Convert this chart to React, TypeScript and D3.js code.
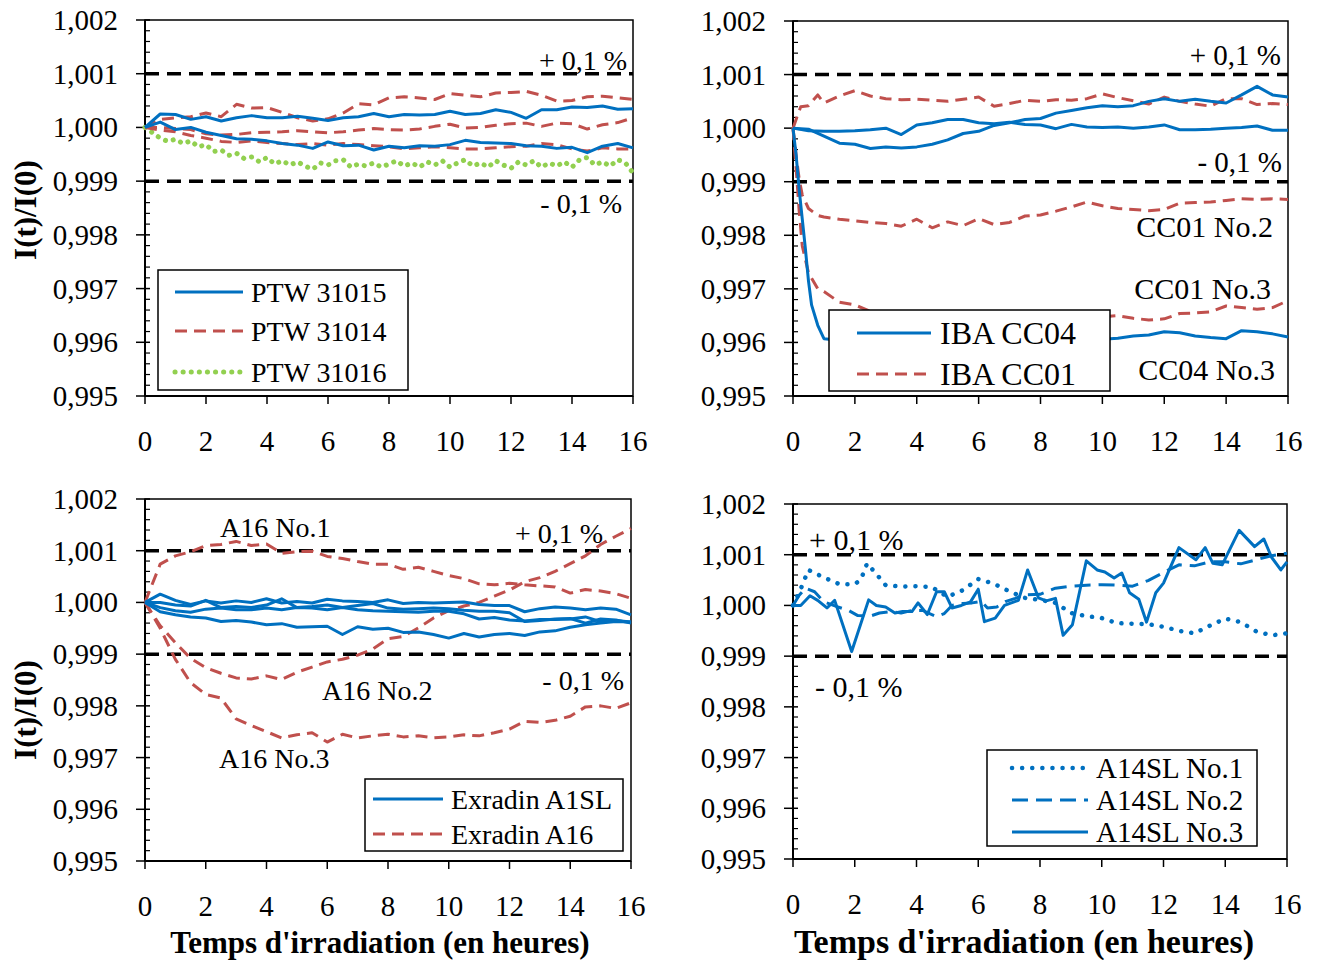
import React from "react";
import * as d3 from "d3";

// ---------- shared axes data ----------
const yTickValues = [0.995, 0.996, 0.997, 0.998, 0.999, 1.0, 1.001, 1.002];
const xTickValues = [0, 2, 4, 6, 8, 10, 12, 14, 16];
const refLevels = [1.001, 0.999];

// ---------- time arrays (hours) ----------
const hoursHalf = [0, 0.5, 1, 1.5, 2, 2.5, 3, 3.5, 4, 4.5, 5, 5.5, 6, 6.5, 7, 7.5, 8, 8.5, 9, 9.5, 10, 10.5, 11, 11.5, 12, 12.5, 13, 13.5, 14, 14.5, 15, 15.5, 16];
const hoursQuarter = [0, 0.25, 0.5, 0.75, 1, 1.25, 1.5, 1.75, 2, 2.25, 2.5, 2.75, 3, 3.25, 3.5, 3.75, 4, 4.25, 4.5, 4.75, 5, 5.25, 5.5, 5.75, 6, 6.25, 6.5, 6.75, 7, 7.25, 7.5, 7.75, 8, 8.25, 8.5, 8.75, 9, 9.25, 9.5, 9.75, 10, 10.25, 10.5, 10.75, 11, 11.25, 11.5, 11.75, 12, 12.25, 12.5, 12.75, 13, 13.25, 13.5, 13.75, 14, 14.25, 14.5, 14.75, 15, 15.25, 15.5, 15.75, 16];

// ---------- Panel 1 : PTW ----------
const ptw31015a = [1.00000, 1.00025, 1.00024, 1.00015, 1.00020, 1.00012, 1.00018, 1.00022, 1.00018, 1.00018, 1.00021, 1.00017, 1.00013, 1.00018, 1.00020, 1.00026, 1.00020, 1.00024, 1.00023, 1.00024, 1.00030, 1.00024, 1.00026, 1.00033, 1.00028, 1.00017, 1.00033, 1.00033, 1.00038, 1.00037, 1.00040, 1.00034, 1.00035];
const ptw31015b = [1.00000, 1.00010, 0.99996, 1.00000, 0.99991, 0.99985, 0.99979, 0.99978, 0.99975, 0.99970, 0.99967, 0.99961, 0.99973, 0.99966, 0.99967, 0.99958, 0.99965, 0.99962, 0.99966, 0.99965, 0.99968, 0.99976, 0.99972, 0.99971, 0.99970, 0.99966, 0.99965, 0.99961, 0.99963, 0.99953, 0.99965, 0.99970, 0.99962];
const ptw31014a = [1.00000, 1.00015, 1.00018, 1.00020, 1.00027, 1.00020, 1.00043, 1.00036, 1.00037, 1.00028, 1.00018, 1.00012, 1.00016, 1.00027, 1.00044, 1.00042, 1.00055, 1.00057, 1.00055, 1.00052, 1.00063, 1.00060, 1.00057, 1.00064, 1.00065, 1.00067, 1.00060, 1.00049, 1.00050, 1.00057, 1.00058, 1.00055, 1.00052];
const ptw31014b = [1.00000, 1.00000, 0.99998, 0.99996, 0.99988, 0.99986, 0.99987, 0.99990, 0.99991, 0.99992, 0.99994, 0.99992, 0.99990, 0.99992, 0.99995, 0.99998, 0.99996, 0.99995, 0.99997, 1.00002, 1.00006, 0.99999, 1.00000, 1.00004, 1.00007, 1.00008, 1.00002, 1.00008, 1.00007, 0.99997, 1.00005, 1.00009, 1.00018];
const ptw31014c = [1.00000, 0.99995, 0.99992, 0.99985, 0.99980, 0.99974, 0.99972, 0.99975, 0.99972, 0.99970, 0.99968, 0.99970, 0.99967, 0.99970, 0.99968, 0.99966, 0.99964, 0.99960, 0.99962, 0.99964, 0.99962, 0.99960, 0.99960, 0.99962, 0.99964, 0.99965, 0.99970, 0.99968, 0.99960, 0.99956, 0.99962, 0.99960, 0.99960];
const ptw31016 = [
  1.00000, 0.99990, 0.99980, 0.99974,
  0.99978, 0.99970, 0.99975, 0.99964,
  0.99968, 0.99955, 0.99958, 0.99948,
  0.99952, 0.99942, 0.99945, 0.99936,
  0.99944, 0.99932, 0.99938, 0.99930,
  0.99936, 0.99928, 0.99922, 0.99934,
  0.99930, 0.99938, 0.99940, 0.99926,
  0.99932, 0.99928, 0.99934, 0.99926,
  0.99932, 0.99938, 0.99928, 0.99934,
  0.99926, 0.99936, 0.99930, 0.99938,
  0.99926, 0.99934, 0.99940, 0.99928,
  0.99934, 0.99926, 0.99938, 0.99930,
  0.99924, 0.99936, 0.99930, 0.99938,
  0.99926, 0.99934, 0.99928, 0.99936,
  0.99926, 0.99940, 0.99944, 0.99930,
  0.99936, 0.99928, 0.99940, 0.99934,
  0.99915];

// ---------- Panel 2 : IBA ----------
const hoursCC04fast = [0, 0.1, 0.2, 0.3, 0.4, 0.5, 0.6, 0.8, 1, 1.5, 2, 2.5, 3, 3.5, 4, 4.5, 5, 5.5, 6, 6.5, 7, 7.5, 8, 8.5, 9, 9.5, 10, 10.5, 11, 11.5, 12, 12.5, 13, 13.5, 14, 14.5, 15, 15.5, 16];
const hoursCC01a = [0, 0.25, 0.5, 0.8, 1, 1.5, 2, 2.5, 3, 3.5, 4, 4.5, 5, 5.5, 6, 6.5, 7, 7.5, 8, 8.5, 9, 9.5, 10, 10.5, 11, 11.5, 12, 12.5, 13, 13.5, 14, 14.5, 15, 15.5, 16];
const hoursCC01fast = [0, 0.1, 0.2, 0.3, 0.5, 0.8, 1, 1.5, 2, 2.5, 3, 3.5, 4, 4.5, 5, 5.5, 6, 6.5, 7, 7.5, 8, 8.5, 9, 9.5, 10, 10.5, 11, 11.5, 12, 12.5, 13, 13.5, 14, 14.5, 15, 15.5, 16];
const ibaCC04a = [1.00000, 0.99998, 0.99985, 0.99972, 0.99970, 0.99962, 0.99965, 0.99963, 0.99965, 0.99970, 0.99978, 0.99990, 0.99994, 1.00005, 1.00010, 1.00016, 1.00018, 1.00028, 1.00033, 1.00038, 1.00042, 1.00040, 1.00042, 1.00050, 1.00055, 1.00050, 1.00054, 1.00050, 1.00047, 1.00062, 1.00078, 1.00062, 1.00058];
const ibaCC04b = [1.00000, 0.99995, 0.99994, 0.99994, 0.99995, 0.99997, 1.00000, 0.99988, 1.00006, 1.00010, 1.00016, 1.00016, 1.00010, 1.00008, 1.00011, 1.00007, 1.00006, 0.99999, 1.00007, 1.00002, 1.00001, 1.00002, 1.00000, 1.00002, 1.00006, 0.99997, 0.99997, 0.99998, 1.00000, 1.00001, 1.00004, 0.99996, 0.99996];
const ibaCC04no3 = [1.00000, 0.99950, 0.99885, 0.99830, 0.99775, 0.99715, 0.99670, 0.99632, 0.99607, 0.99604, 0.99605, 0.99604, 0.99606, 0.99605, 0.99607, 0.99605, 0.99606, 0.99608, 0.99606, 0.99607, 0.99609, 0.99607, 0.99608, 0.99606, 0.99608, 0.99607, 0.99606, 0.99608, 0.99612, 0.99614, 0.99620, 0.99618, 0.99612, 0.99609, 0.99607, 0.99622, 0.99620, 0.99616, 0.99610];
const ibaCC01a = [1.00000, 1.00040, 1.00042, 1.00062, 1.00047, 1.00060, 1.00070, 1.00060, 1.00055, 1.00053, 1.00054, 1.00052, 1.00050, 1.00054, 1.00058, 1.00041, 1.00046, 1.00052, 1.00050, 1.00053, 1.00052, 1.00055, 1.00064, 1.00057, 1.00051, 1.00045, 1.00058, 1.00050, 1.00045, 1.00041, 1.00055, 1.00055, 1.00044, 1.00046, 1.00044];
const ibaCC01no2 = [1.00000, 0.99950, 0.99905, 0.99875, 0.99850, 0.99837, 0.99834, 0.99830, 0.99827, 0.99824, 0.99822, 0.99817, 0.99830, 0.99814, 0.99825, 0.99818, 0.99831, 0.99820, 0.99824, 0.99836, 0.99838, 0.99845, 0.99853, 0.99862, 0.99855, 0.99850, 0.99848, 0.99846, 0.99848, 0.99860, 0.99861, 0.99862, 0.99865, 0.99868, 0.99867, 0.99868, 0.99867];
const ibaCC01no3 = [1.00000, 0.99925, 0.99845, 0.99780, 0.99730, 0.99700, 0.99695, 0.99675, 0.99670, 0.99658, 0.99655, 0.99652, 0.99650, 0.99650, 0.99648, 0.99650, 0.99647, 0.99649, 0.99648, 0.99650, 0.99647, 0.99649, 0.99648, 0.99650, 0.99648, 0.99650, 0.99645, 0.99642, 0.99644, 0.99654, 0.99655, 0.99657, 0.99668, 0.99665, 0.99662, 0.99665, 0.99678];

// ---------- Panel 3 : Exradin ----------
const a16no1 = [1.00000, 1.00074, 1.00090, 1.00098, 1.00110, 1.00112, 1.00118, 1.00110, 1.00113, 1.00095, 1.00098, 1.00099, 1.00089, 1.00085, 1.00079, 1.00074, 1.00074, 1.00064, 1.00068, 1.00060, 1.00052, 1.00046, 1.00036, 1.00034, 1.00037, 1.00034, 1.00032, 1.00030, 1.00018, 1.00025, 1.00022, 1.00017, 1.00008];
const a16no2 = [1.00000, 0.99955, 0.99922, 0.99892, 0.99874, 0.99863, 0.99854, 0.99852, 0.99858, 0.99851, 0.99865, 0.99875, 0.99885, 0.99890, 0.99898, 0.99910, 0.99930, 0.99934, 0.99951, 0.99970, 0.99984, 0.99993, 1.00000, 1.00012, 1.00024, 1.00040, 1.00048, 1.00060, 1.00075, 1.00090, 1.00112, 1.00128, 1.00143];
const a16no3 = [1.00000, 0.99950, 0.99890, 0.99845, 0.99822, 0.99815, 0.99775, 0.99762, 0.99750, 0.99738, 0.99744, 0.99748, 0.99730, 0.99745, 0.99738, 0.99742, 0.99745, 0.99740, 0.99742, 0.99738, 0.99740, 0.99744, 0.99742, 0.99748, 0.99755, 0.99770, 0.99768, 0.99772, 0.99780, 0.99798, 0.99800, 0.99795, 0.99806];
const a1slA = [1.00000, 1.00016, 1.00004, 0.99996, 1.00003, 0.99999, 1.00003, 1.00000, 1.00007, 0.99999, 1.00002, 0.99999, 1.00006, 1.00003, 1.00002, 1.00000, 1.00005, 0.99998, 1.00000, 0.99999, 1.00000, 1.00001, 0.99996, 0.99994, 0.99994, 0.99982, 0.99988, 0.99991, 0.99989, 0.99986, 0.99989, 0.99987, 0.99976];
const a1slB = [1.00000, 1.00000, 0.99995, 0.99993, 1.00004, 0.99990, 0.99992, 0.99990, 0.99995, 1.00007, 0.99990, 0.99992, 0.99995, 0.99990, 0.99994, 0.99998, 0.99989, 0.99987, 0.99988, 0.99989, 0.99988, 0.99985, 0.99983, 0.99983, 0.99980, 0.99963, 0.99965, 0.99968, 0.99969, 0.99960, 0.99968, 0.99966, 0.99960];
const a1slC = [1.00000, 0.99990, 0.99984, 0.99981, 0.99987, 0.99989, 0.99986, 0.99986, 0.99989, 0.99986, 0.99990, 0.99989, 0.99986, 0.99990, 0.99986, 0.99984, 0.99983, 0.99982, 0.99981, 0.99983, 0.99983, 0.99978, 0.99968, 0.99971, 0.99966, 0.99964, 0.99967, 0.99967, 0.99968, 0.99972, 0.99963, 0.99965, 0.99962];
const a1slD = [1.00000, 0.99982, 0.99976, 0.99972, 0.99970, 0.99963, 0.99965, 0.99962, 0.99957, 0.99959, 0.99952, 0.99953, 0.99954, 0.99938, 0.99953, 0.99948, 0.99950, 0.99942, 0.99943, 0.99938, 0.99931, 0.99940, 0.99933, 0.99938, 0.99940, 0.99936, 0.99943, 0.99945, 0.99952, 0.99957, 0.99960, 0.99963, 0.99962];

// ---------- Panel 4 : A14SL ----------
const hoursA14no1 = [0, 0.2, 0.5, 1, 1.5, 2, 2.2, 2.4, 2.7, 3, 3.5, 4, 4.5, 5, 5.5, 6, 6.5, 7, 7.5, 8, 8.5, 9, 9.5, 10, 10.5, 11, 11.5, 12, 12.5, 13, 13.5, 14, 14.5, 15, 15.5, 16];
const a14no1 = [1.00000, 1.00025, 1.00070, 1.00055, 1.00042, 1.00042, 1.00051, 1.00083, 1.00062, 1.00040, 1.00037, 1.00038, 1.00036, 1.00017, 1.00030, 1.00052, 1.00043, 1.00028, 1.00015, 1.00011, 1.00005, 0.99985, 0.99979, 0.99975, 0.99965, 0.99964, 0.99963, 0.99958, 0.99950, 0.99945, 0.99960, 0.99974, 0.99967, 0.99949, 0.99941, 0.99945];
const hoursA14no2 = [0, 0.2, 0.4, 0.7, 1, 1.4, 1.8, 2.1, 2.5, 2.8, 3.2, 3.5, 3.85, 4.2, 4.65, 4.9, 5.15, 5.5, 5.8, 6.1, 6.3, 6.6, 6.9, 7.2, 7.5, 8, 8.5, 9, 9.5, 10, 10.5, 11, 11.5, 12, 12.5, 13, 13.5, 14, 14.5, 15, 15.5, 16];
const a14no2 = [1.00000, 1.00020, 1.00034, 1.00027, 1.00007, 0.99998, 0.99990, 0.99980, 0.99979, 0.99985, 0.99988, 0.99985, 0.99990, 0.99990, 0.99978, 0.99984, 1.00000, 1.00004, 1.00005, 1.00008, 0.99995, 0.99997, 1.00008, 1.00014, 1.00021, 1.00022, 1.00034, 1.00038, 1.00040, 1.00041, 1.00040, 1.00038, 1.00049, 1.00065, 1.00080, 1.00078, 1.00086, 1.00086, 1.00082, 1.00090, 1.00098, 1.00103];
const hoursA14no3 = [0, 0.25, 0.55, 0.8, 1.1, 1.35, 1.9, 2.45, 2.7, 3, 3.3, 3.55, 3.85, 4.05, 4.35, 4.65, 4.9, 5.15, 5.45, 5.75, 6, 6.2, 6.55, 6.85, 7.3, 7.6, 7.95, 8.2, 8.5, 8.75, 9.05, 9.5, 9.85, 10.1, 10.4, 10.65, 10.9, 11.2, 11.45, 11.75, 12, 12.5, 13.05, 13.35, 13.6, 13.9, 14.45, 14.95, 15.25, 15.5, 15.8, 16];
const a14no3 = [1.00000, 1.00000, 1.00019, 1.00010, 0.99995, 1.00010, 0.99909, 1.00011, 1.00000, 0.99997, 0.99985, 0.99988, 0.99988, 1.00005, 0.99982, 1.00027, 1.00027, 0.99995, 1.00000, 1.00007, 1.00032, 0.99968, 0.99975, 1.00000, 1.00010, 1.00070, 1.00015, 1.00009, 1.00014, 0.99941, 0.99962, 1.00088, 1.00070, 1.00066, 1.00054, 1.00064, 1.00025, 1.00012, 0.99967, 1.00025, 1.00044, 1.00114, 1.00090, 1.00114, 1.00083, 1.00080, 1.00148, 1.00116, 1.00131, 1.00095, 1.00070, 1.00086];

// ---------- styles ----------
const FONT = "'Liberation Serif','Times New Roman',Times,serif";
const BLUE = "#0070C0";
const RED = "#C0504D";
const GREEN = "#92D050";

type StyleKey = "blueSolid" | "redDash" | "greenDot" | "blueDot" | "blueDash";
const STYLES: Record<StyleKey, any> = {
  blueSolid: { stroke: BLUE, strokeWidth: 3 },
  redDash: { stroke: RED, strokeWidth: 3, strokeDasharray: "12 7" },
  greenDot: { stroke: GREEN, strokeWidth: 5, strokeDasharray: "0.1 8", strokeLinecap: "round" },
  blueDot: { stroke: BLUE, strokeWidth: 4.5, strokeDasharray: "0.1 10", strokeLinecap: "round" },
  blueDash: { stroke: BLUE, strokeWidth: 3, strokeDasharray: "16 8" },
};

type Series = { t: number[]; v: number[]; style: StyleKey };
type Note = { text: string; x: number; y: number; anchor?: string; size: number };
type LegendCfg = { x: number; y: number; w: number; h: number; rows: number[]; lineX: [number, number]; textX: number; size: number; items: { label: string; style: StyleKey }[] };

type PanelCfg = {
  left: number; right: number; top: number; bottom: number;
  series: Series[];
  legend: LegendCfg;
  notes: Note[];
  yTitle?: { x: number; y: number };
  xTitle?: { x: number; y: number; size: number };
};

const fmt = (v: number) => d3.format(".3f")(v).replace(".", ",");

function Panel({ cfg }: { cfg: PanelCfg }) {
  const x = d3.scaleLinear().domain([0, 16]).range([cfg.left, cfg.right]);
  const y = d3.scaleLinear().domain([0.995, 1.002]).range([cfg.bottom, cfg.top]);
  const line = d3.line<[number, number]>().x((d) => x(d[0])).y((d) => y(d[1]));
  const minor = d3.range(0, 36).filter((i) => i % 5 !== 0).map((i) => 0.995 + i * 0.0002);
  const lg = cfg.legend;
  return (
    <g>
      {/* frame */}
      <rect x={cfg.left} y={cfg.top} width={cfg.right - cfg.left} height={cfg.bottom - cfg.top} fill="none" stroke="#000" strokeWidth={1.5} />
      <line x1={cfg.left} x2={cfg.left} y1={cfg.top} y2={cfg.bottom} stroke="#000" strokeWidth={2} />
      <line x1={cfg.left} x2={cfg.right} y1={cfg.bottom} y2={cfg.bottom} stroke="#000" strokeWidth={2} />
      {/* y ticks */}
      {yTickValues.map((v) => (
        <g key={"yt" + v}>
          <line x1={cfg.left - 9} x2={cfg.left + 5} y1={y(v)} y2={y(v)} stroke="#000" strokeWidth={1.5} />
          <text x={cfg.left - 27} y={y(v) + 10} textAnchor="end" fontFamily={FONT} fontSize={29} fill="#000">{fmt(v)}</text>
        </g>
      ))}
      {minor.map((v, i) => (
        <line key={"ym" + i} x1={cfg.left} x2={cfg.left + 5} y1={y(v)} y2={y(v)} stroke="#000" strokeWidth={1.2} />
      ))}
      {/* x ticks */}
      {xTickValues.map((t) => (
        <g key={"xt" + t}>
          <line x1={x(t)} x2={x(t)} y1={cfg.bottom} y2={cfg.bottom + 8} stroke="#000" strokeWidth={1.5} />
          <text x={x(t)} y={cfg.bottom + 55} textAnchor="middle" fontFamily={FONT} fontSize={29} fill="#000">{t}</text>
        </g>
      ))}
      {/* reference lines */}
      {refLevels.map((v) => (
        <line key={"ref" + v} x1={cfg.left} x2={cfg.right} y1={y(v)} y2={y(v)} stroke="#000" strokeWidth={3.5} strokeDasharray="14 8" />
      ))}
      {/* data */}
      {cfg.series.map((s, i) => (
        <path key={"s" + i} d={line(s.t.map((t, j) => [t, s.v[j]] as [number, number])) || ""} fill="none" strokeLinejoin="round" {...STYLES[s.style]} />
      ))}
      {/* legend */}
      <rect x={lg.x} y={lg.y} width={lg.w} height={lg.h} fill="#fff" stroke="#000" strokeWidth={1.5} />
      {lg.items.map((it, i) => (
        <g key={"lg" + i}>
          <line x1={lg.lineX[0]} x2={lg.lineX[1]} y1={lg.rows[i]} y2={lg.rows[i]} {...STYLES[it.style]} />
          <text x={lg.textX} y={lg.rows[i] + lg.size * 0.34} fontFamily={FONT} fontSize={lg.size} fill="#000">{it.label}</text>
        </g>
      ))}
      {/* notes */}
      {cfg.notes.map((n, i) => (
        <text key={"n" + i} x={n.x} y={n.y} textAnchor={n.anchor || "start"} fontFamily={FONT} fontSize={n.size} fill="#000" style={{ whiteSpace: "pre" }}>{n.text}</text>
      ))}
      {cfg.yTitle && (
        <text transform={`translate(${cfg.yTitle.x},${cfg.yTitle.y}) rotate(-90)`} textAnchor="middle" fontFamily={FONT} fontWeight="bold" fontSize={31} fill="#000">I(t)/I(0)</text>
      )}
      {cfg.xTitle && (
        <text x={cfg.xTitle.x} y={cfg.xTitle.y} textAnchor="middle" fontFamily={FONT} fontWeight="bold" fontSize={cfg.xTitle.size} fill="#000">Temps d'irradiation (en heures)</text>
      )}
    </g>
  );
}

const panels: PanelCfg[] = [
  {
    left: 145, right: 633, top: 20, bottom: 396,
    series: [
      { t: hoursQuarter, v: ptw31016, style: "greenDot" },
      { t: hoursHalf, v: ptw31014a, style: "redDash" },
      { t: hoursHalf, v: ptw31014b, style: "redDash" },
      { t: hoursHalf, v: ptw31014c, style: "redDash" },
      { t: hoursHalf, v: ptw31015a, style: "blueSolid" },
      { t: hoursHalf, v: ptw31015b, style: "blueSolid" },
    ],
    legend: {
      x: 158, y: 270, w: 250, h: 120, rows: [292, 331, 372], lineX: [175, 243], textX: 251, size: 28,
      items: [
        { label: "PTW 31015", style: "blueSolid" },
        { label: "PTW 31014", style: "redDash" },
        { label: "PTW 31016", style: "greenDot" },
      ],
    },
    notes: [
      { text: "+ 0,1 %", x: 627, y: 70, anchor: "end", size: 28 },
      { text: "- 0,1 %", x: 622, y: 213, anchor: "end", size: 28 },
    ],
    yTitle: { x: 36, y: 210 },
  },
  {
    left: 793, right: 1288, top: 21, bottom: 396,
    series: [
      { t: hoursCC01a, v: ibaCC01a, style: "redDash" },
      { t: hoursCC01fast, v: ibaCC01no2, style: "redDash" },
      { t: hoursCC01fast, v: ibaCC01no3, style: "redDash" },
      { t: hoursHalf, v: ibaCC04a, style: "blueSolid" },
      { t: hoursHalf, v: ibaCC04b, style: "blueSolid" },
      { t: hoursCC04fast, v: ibaCC04no3, style: "blueSolid" },
    ],
    legend: {
      x: 829, y: 310, w: 281, h: 81, rows: [333, 374], lineX: [857, 931], textX: 940, size: 32,
      items: [
        { label: "IBA CC04", style: "blueSolid" },
        { label: "IBA CC01", style: "redDash" },
      ],
    },
    notes: [
      { text: "+ 0,1 %", x: 1281, y: 65, anchor: "end", size: 29 },
      { text: "- 0,1 %", x: 1282, y: 172, anchor: "end", size: 29 },
      { text: "CC01 No.2", x: 1273, y: 237, anchor: "end", size: 30 },
      { text: "CC01 No.3", x: 1271, y: 299, anchor: "end", size: 30 },
      { text: "CC04 No.3", x: 1275, y: 380, anchor: "end", size: 30 },
    ],
  },
  {
    left: 145, right: 631, top: 499, bottom: 861,
    series: [
      { t: hoursHalf, v: a16no1, style: "redDash" },
      { t: hoursHalf, v: a16no2, style: "redDash" },
      { t: hoursHalf, v: a16no3, style: "redDash" },
      { t: hoursHalf, v: a1slA, style: "blueSolid" },
      { t: hoursHalf, v: a1slB, style: "blueSolid" },
      { t: hoursHalf, v: a1slC, style: "blueSolid" },
      { t: hoursHalf, v: a1slD, style: "blueSolid" },
    ],
    legend: {
      x: 365, y: 779, w: 258, h: 72, rows: [799, 834], lineX: [373, 443], textX: 451, size: 28,
      items: [
        { label: "Exradin A1SL", style: "blueSolid" },
        { label: "Exradin A16", style: "redDash" },
      ],
    },
    notes: [
      { text: "A16 No.1", x: 220, y: 537, size: 28 },
      { text: "+ 0,1 %", x: 603, y: 543, anchor: "end", size: 28 },
      { text: "A16 No.2", x: 322, y: 700, size: 28 },
      { text: "- 0,1 %", x: 624, y: 690, anchor: "end", size: 28 },
      { text: "A16 No.3", x: 219, y: 768, size: 28 },
    ],
    yTitle: { x: 36, y: 710 },
    xTitle: { x: 380, y: 953, size: 31 },
  },
  {
    left: 793, right: 1287, top: 504, bottom: 859,
    series: [
      { t: hoursA14no1, v: a14no1, style: "blueDot" },
      { t: hoursA14no2, v: a14no2, style: "blueDash" },
      { t: hoursA14no3, v: a14no3, style: "blueSolid" },
    ],
    legend: {
      x: 987, y: 750, w: 270, h: 96, rows: [768, 800, 832], lineX: [1012, 1088], textX: 1096, size: 29,
      items: [
        { label: "A14SL No.1", style: "blueDot" },
        { label: "A14SL No.2", style: "blueDash" },
        { label: "A14SL No.3", style: "blueSolid" },
      ],
    },
    notes: [
      { text: "+ 0,1 %", x: 809, y: 550, size: 30 },
      { text: "- 0,1 %", x: 815, y: 697, size: 30 },
    ],
    xTitle: { x: 1024, y: 953, size: 34 },
  },
];

export default function App() {
  return (
    <svg width={1318} height={960} style={{ position: "absolute", left: 0, top: 0, background: "#fff" }}>
      <rect x={0} y={0} width={1318} height={960} fill="#fff" />
      {panels.map((p, i) => (
        <Panel key={i} cfg={p} />
      ))}
    </svg>
  );
}
